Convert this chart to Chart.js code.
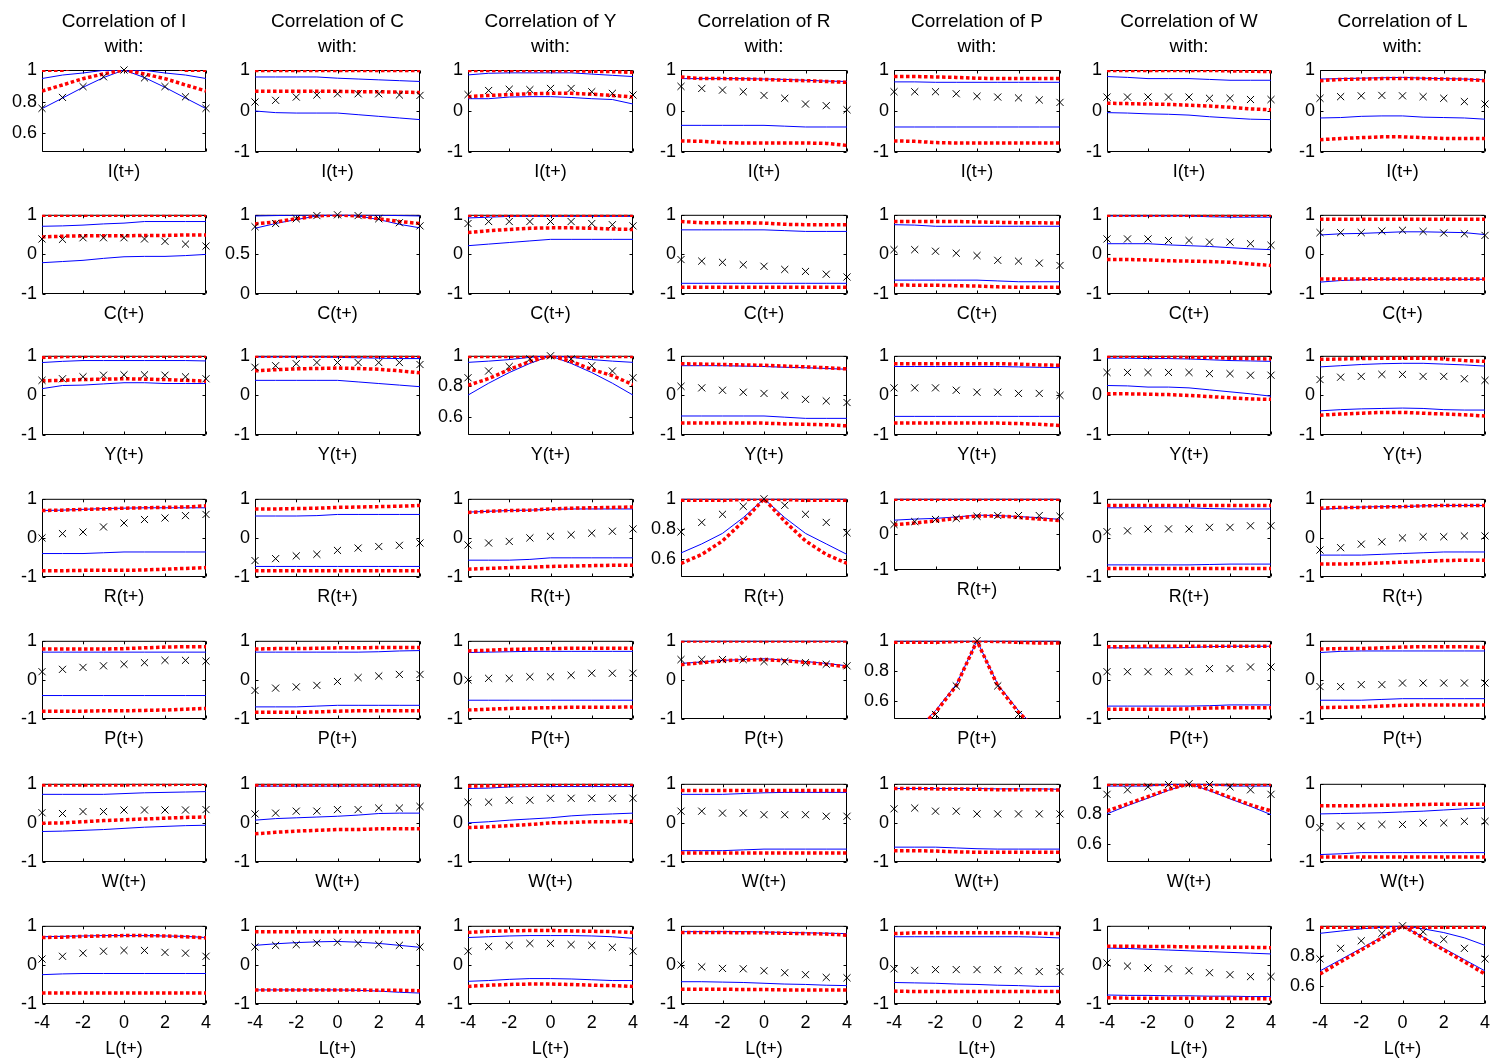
<!DOCTYPE html>
<html>
<head>
<meta charset="utf-8">
<script src="https://cdn.jsdelivr.net/npm/chart.js@4/dist/chart.umd.min.js"></script>
<style>
  html, body { margin: 0; padding: 0; background: #fff; }
  #grid { position: relative; width: 1493px; height: 1063px; overflow: hidden; }
  #grid canvas { position: absolute; }
</style>
</head>
<body>
<div id="grid"></div>
<script>
// Variables: columns are "Correlation of <v> with:", rows are "<v>(t+k)"
const VARS = ['I', 'C', 'Y', 'R', 'P', 'W', 'L'];
const LAGS = [-4, -3, -2, -1, 0, 1, 2, 3, 4];
const X_TICKS = [-4, -2, 0, 2, 4];
const Y_TICKS_FULL = [-1, 0, 1];
const Y_TICKS_AUTO = [0.6, 0.8, 1];
const Y_TICKS_UNIT = [0, 0.5, 1];

// Each row array lists the 7 columns in VARS order, 9 lags each.
// point = sample correlation (x markers), blueHi/blueLo = thin blue band,
// redHi/redLo = dotted red band.

// ---- row I(t+) ----
const pointI = [
  [0.757, 0.826, 0.895, 0.957, 1.0, 0.95, 0.895, 0.83, 0.757],
  [0.22, 0.26, 0.34, 0.39, 0.42, 0.42, 0.42, 0.39, 0.38],
  [0.40, 0.50, 0.53, 0.52, 0.55, 0.55, 0.47, 0.43, 0.39],
  [0.60, 0.55, 0.51, 0.47, 0.38, 0.31, 0.17, 0.13, 0.03],
  [0.47, 0.47, 0.47, 0.42, 0.36, 0.34, 0.32, 0.27, 0.21],
  [0.34, 0.34, 0.34, 0.34, 0.34, 0.31, 0.31, 0.28, 0.28],
  [0.31, 0.35, 0.37, 0.38, 0.37, 0.35, 0.31, 0.23, 0.17]
];
const blueHiI = [
  [0.946, 0.968, 0.981, 0.998, 1, 0.998, 0.981, 0.968, 0.946],
  [0.83, 0.83, 0.83, 0.83, 0.80, 0.78, 0.76, 0.74, 0.72],
  [0.88, 0.92, 0.93, 0.93, 0.93, 0.93, 0.90, 0.87, 0.84],
  [0.79, 0.79, 0.79, 0.79, 0.78, 0.77, 0.75, 0.73, 0.72],
  [0.71, 0.71, 0.70, 0.70, 0.70, 0.70, 0.70, 0.70, 0.70],
  [0.84, 0.82, 0.79, 0.79, 0.79, 0.77, 0.75, 0.75, 0.75],
  [0.78, 0.79, 0.80, 0.81, 0.82, 0.80, 0.79, 0.78, 0.76]
];
const blueLoI = [
  [0.755, 0.822, 0.89, 0.952, 1, 0.952, 0.89, 0.822, 0.755],
  [0.0, -0.04, -0.05, -0.05, -0.05, -0.09, -0.13, -0.17, -0.21],
  [0.30, 0.30, 0.34, 0.35, 0.35, 0.33, 0.30, 0.28, 0.17],
  [-0.35, -0.35, -0.35, -0.35, -0.35, -0.37, -0.39, -0.39, -0.39],
  [-0.39, -0.39, -0.39, -0.39, -0.39, -0.39, -0.39, -0.39, -0.39],
  [-0.04, -0.05, -0.07, -0.08, -0.10, -0.14, -0.17, -0.20, -0.21],
  [-0.17, -0.16, -0.13, -0.12, -0.12, -0.15, -0.16, -0.17, -0.20]
];
const redHiI = [
  [0.998, 0.999, 1.03, 1.03, 1.03, 1.03, 1.03, 0.999, 0.998],
  [0.99, 0.99, 0.99, 0.99, 0.99, 0.99, 0.99, 0.99, 0.99],
  [0.99, 0.99, 0.99, 0.99, 0.98, 0.98, 0.97, 0.96, 0.94],
  [0.83, 0.79, 0.79, 0.78, 0.77, 0.75, 0.74, 0.72, 0.70],
  [0.84, 0.84, 0.83, 0.82, 0.80, 0.79, 0.79, 0.79, 0.79],
  [0.99, 0.99, 0.99, 0.99, 0.99, 0.99, 0.98, 0.97, 0.96],
  [0.74, 0.77, 0.78, 0.79, 0.79, 0.79, 0.78, 0.77, 0.74]
];
const redLoI = [
  [0.867, 0.905, 0.945, 0.975, 1, 0.975, 0.945, 0.905, 0.867],
  [0.48, 0.48, 0.48, 0.48, 0.48, 0.47, 0.47, 0.46, 0.45],
  [0.35, 0.38, 0.40, 0.42, 0.43, 0.43, 0.41, 0.38, 0.34],
  [-0.73, -0.74, -0.77, -0.78, -0.78, -0.78, -0.78, -0.79, -0.84],
  [-0.73, -0.74, -0.77, -0.78, -0.78, -0.78, -0.78, -0.78, -0.78],
  [0.19, 0.18, 0.17, 0.16, 0.14, 0.12, 0.09, 0.05, 0.03],
  [-0.70, -0.67, -0.65, -0.63, -0.63, -0.65, -0.67, -0.67, -0.67]
];

// ---- row C(t+) ----
const pointC = [
  [0.39, 0.38, 0.42, 0.42, 0.42, 0.39, 0.33, 0.26, 0.21],
  [0.85, 0.89, 0.95, 0.99, 1.0, 0.99, 0.95, 0.90, 0.86],
  [0.78, 0.83, 0.83, 0.83, 0.83, 0.83, 0.78, 0.75, 0.72],
  [-0.13, -0.17, -0.20, -0.26, -0.30, -0.38, -0.43, -0.50, -0.57],
  [0.12, 0.12, 0.08, 0.03, -0.03, -0.15, -0.17, -0.22, -0.28],
  [0.39, 0.39, 0.39, 0.35, 0.35, 0.31, 0.31, 0.27, 0.23],
  [0.55, 0.55, 0.55, 0.59, 0.61, 0.58, 0.54, 0.52, 0.48]
];
const blueHiC = [
  [0.71, 0.72, 0.74, 0.77, 0.79, 0.83, 0.83, 0.83, 0.83],
  [0.985, 0.99, 0.995, 1, 1, 1, 0.995, 0.99, 0.985],
  [0.92, 0.94, 0.96, 0.96, 0.96, 0.96, 0.96, 0.96, 0.96],
  [0.62, 0.62, 0.62, 0.62, 0.62, 0.60, 0.58, 0.58, 0.58],
  [0.75, 0.74, 0.71, 0.71, 0.71, 0.71, 0.71, 0.71, 0.71],
  [0.97, 0.97, 0.97, 0.97, 0.97, 0.95, 0.94, 0.94, 0.94],
  [0.49, 0.52, 0.53, 0.55, 0.57, 0.57, 0.56, 0.55, 0.50]
];
const blueLoC = [
  [-0.21, -0.18, -0.15, -0.10, -0.06, -0.05, -0.05, -0.03, 0.0],
  [0.83, 0.89, 0.94, 0.985, 1, 0.985, 0.94, 0.88, 0.835],
  [0.22, 0.26, 0.30, 0.34, 0.38, 0.38, 0.38, 0.38, 0.38],
  [-0.73, -0.73, -0.73, -0.73, -0.73, -0.73, -0.73, -0.73, -0.73],
  [-0.65, -0.65, -0.65, -0.65, -0.65, -0.67, -0.69, -0.69, -0.69],
  [0.27, 0.27, 0.27, 0.24, 0.22, 0.20, 0.17, 0.14, 0.12],
  [-0.70, -0.66, -0.64, -0.63, -0.63, -0.63, -0.63, -0.63, -0.63]
];
const redHiC = [
  [0.99, 0.99, 0.99, 0.99, 0.99, 0.99, 0.99, 0.99, 0.99],
  [1.03, 1.03, 1.03, 1.03, 1.03, 1.03, 1.03, 1.03, 1.03],
  [0.99, 0.99, 0.99, 0.99, 0.99, 0.99, 0.99, 0.99, 0.99],
  [0.83, 0.80, 0.80, 0.80, 0.79, 0.76, 0.75, 0.75, 0.75],
  [0.83, 0.83, 0.83, 0.83, 0.82, 0.81, 0.80, 0.80, 0.79],
  [0.99, 0.99, 0.99, 0.99, 0.99, 0.99, 0.99, 0.99, 0.99],
  [0.89, 0.89, 0.89, 0.89, 0.89, 0.89, 0.89, 0.89, 0.89]
];
const redLoC = [
  [0.44, 0.46, 0.47, 0.47, 0.47, 0.48, 0.48, 0.49, 0.49],
  [0.885, 0.91, 0.95, 0.985, 1, 0.985, 0.95, 0.915, 0.89],
  [0.55, 0.60, 0.63, 0.66, 0.67, 0.67, 0.66, 0.64, 0.63],
  [-0.83, -0.83, -0.83, -0.83, -0.83, -0.83, -0.83, -0.83, -0.83],
  [-0.77, -0.78, -0.78, -0.79, -0.80, -0.82, -0.83, -0.83, -0.83],
  [-0.13, -0.13, -0.14, -0.16, -0.17, -0.18, -0.20, -0.24, -0.28],
  [-0.62, -0.62, -0.62, -0.62, -0.62, -0.62, -0.62, -0.62, -0.62]
];

// ---- row Y(t+) ----
const pointY = [
  [0.38, 0.42, 0.47, 0.51, 0.52, 0.52, 0.51, 0.47, 0.42],
  [0.71, 0.75, 0.80, 0.83, 0.83, 0.83, 0.83, 0.83, 0.78],
  [0.856, 0.90, 0.93, 0.98, 1.0, 0.98, 0.935, 0.90, 0.856],
  [0.23, 0.19, 0.13, 0.08, 0.05, 0.0, -0.10, -0.14, -0.18],
  [0.19, 0.19, 0.19, 0.13, 0.08, 0.08, 0.05, 0.05, 0.0],
  [0.58, 0.58, 0.58, 0.58, 0.58, 0.55, 0.55, 0.51, 0.51],
  [0.40, 0.46, 0.48, 0.53, 0.53, 0.48, 0.48, 0.42, 0.38]
];
const blueHiY = [
  [0.83, 0.86, 0.88, 0.88, 0.88, 0.88, 0.88, 0.88, 0.87],
  [0.97, 0.97, 0.97, 0.97, 0.96, 0.95, 0.94, 0.93, 0.93],
  [0.957, 0.965, 0.975, 0.99, 1, 0.99, 0.975, 0.965, 0.957],
  [0.75, 0.75, 0.75, 0.74, 0.73, 0.71, 0.70, 0.68, 0.66],
  [0.73, 0.73, 0.73, 0.73, 0.73, 0.73, 0.72, 0.71, 0.70],
  [0.94, 0.94, 0.93, 0.93, 0.92, 0.90, 0.88, 0.87, 0.86],
  [0.72, 0.75, 0.78, 0.80, 0.81, 0.81, 0.79, 0.77, 0.74]
];
const blueLoY = [
  [0.17, 0.25, 0.26, 0.29, 0.32, 0.32, 0.30, 0.30, 0.30],
  [0.38, 0.38, 0.38, 0.38, 0.38, 0.34, 0.30, 0.26, 0.22],
  [0.742, 0.82, 0.89, 0.95, 1, 0.95, 0.89, 0.82, 0.742],
  [-0.52, -0.52, -0.52, -0.52, -0.52, -0.55, -0.58, -0.58, -0.58],
  [-0.53, -0.53, -0.53, -0.53, -0.53, -0.53, -0.53, -0.53, -0.53],
  [0.25, 0.24, 0.21, 0.21, 0.19, 0.14, 0.09, 0.04, -0.02],
  [-0.39, -0.36, -0.34, -0.33, -0.32, -0.33, -0.36, -0.37, -0.37]
];
const redHiY = [
  [0.96, 0.98, 0.99, 0.99, 0.99, 0.99, 0.99, 0.99, 0.99],
  [0.99, 0.99, 0.99, 0.99, 0.99, 0.99, 0.99, 0.99, 0.99],
  [0.995, 0.995, 0.995, 0.995, 0.995, 0.995, 0.995, 0.995, 0.995],
  [0.80, 0.79, 0.78, 0.77, 0.76, 0.74, 0.72, 0.70, 0.67],
  [0.80, 0.80, 0.80, 0.80, 0.80, 0.80, 0.79, 0.77, 0.76],
  [0.99, 0.99, 0.99, 0.98, 0.97, 0.96, 0.94, 0.93, 0.92],
  [0.91, 0.92, 0.93, 0.94, 0.94, 0.94, 0.92, 0.88, 0.86]
];
const redLoY = [
  [0.37, 0.38, 0.40, 0.41, 0.42, 0.41, 0.40, 0.38, 0.36],
  [0.62, 0.65, 0.67, 0.68, 0.69, 0.68, 0.66, 0.62, 0.57],
  [0.806, 0.85, 0.91, 0.963, 1, 0.963, 0.91, 0.87, 0.81],
  [-0.70, -0.70, -0.70, -0.70, -0.70, -0.72, -0.73, -0.74, -0.77],
  [-0.70, -0.70, -0.70, -0.70, -0.70, -0.70, -0.71, -0.73, -0.76],
  [0.04, 0.04, 0.03, 0.02, 0.0, -0.03, -0.06, -0.09, -0.10],
  [-0.50, -0.47, -0.45, -0.43, -0.43, -0.45, -0.47, -0.49, -0.52]
];

// ---- row R(t+) ----
const pointR = [
  [0.0, 0.11, 0.15, 0.28, 0.38, 0.47, 0.51, 0.57, 0.60],
  [-0.58, -0.53, -0.46, -0.42, -0.32, -0.26, -0.22, -0.19, -0.13],
  [-0.18, -0.13, -0.09, 0.0, 0.04, 0.08, 0.12, 0.17, 0.23],
  [0.78, 0.843, 0.897, 0.95, 1.0, 0.957, 0.897, 0.843, 0.774],
  [0.28, 0.36, 0.42, 0.45, 0.51, 0.53, 0.53, 0.53, 0.51],
  [0.16, 0.18, 0.23, 0.23, 0.23, 0.27, 0.27, 0.31, 0.31],
  [-0.31, -0.25, -0.16, -0.10, 0.0, 0.03, 0.03, 0.05, 0.05]
];
const blueHiR = [
  [0.70, 0.71, 0.73, 0.75, 0.76, 0.77, 0.77, 0.77, 0.77],
  [0.56, 0.56, 0.56, 0.57, 0.60, 0.60, 0.60, 0.60, 0.60],
  [0.66, 0.68, 0.70, 0.71, 0.73, 0.74, 0.74, 0.74, 0.74],
  [1, 1, 1, 1, 1, 1, 1, 1, 1],
  [1, 1, 1, 1, 1, 1, 1, 1, 1],
  [0.77, 0.77, 0.77, 0.77, 0.77, 0.75, 0.74, 0.74, 0.74],
  [0.73, 0.76, 0.79, 0.80, 0.80, 0.82, 0.83, 0.83, 0.83]
];
const blueLoR = [
  [-0.40, -0.40, -0.40, -0.38, -0.36, -0.36, -0.36, -0.36, -0.36],
  [-0.73, -0.73, -0.73, -0.73, -0.73, -0.73, -0.73, -0.73, -0.73],
  [-0.57, -0.57, -0.57, -0.55, -0.51, -0.51, -0.51, -0.51, -0.51],
  [0.64, 0.70, 0.77, 0.875, 1, 0.875, 0.77, 0.70, 0.63],
  [0.40, 0.43, 0.45, 0.49, 0.54, 0.53, 0.50, 0.47, 0.42],
  [-0.69, -0.69, -0.69, -0.69, -0.69, -0.68, -0.67, -0.67, -0.67],
  [-0.44, -0.44, -0.44, -0.42, -0.40, -0.38, -0.36, -0.36, -0.36]
];
const redHiR = [
  [0.70, 0.71, 0.73, 0.74, 0.76, 0.77, 0.78, 0.79, 0.82],
  [0.74, 0.74, 0.75, 0.76, 0.78, 0.79, 0.80, 0.81, 0.83],
  [0.65, 0.68, 0.70, 0.71, 0.74, 0.76, 0.77, 0.78, 0.79],
  [0.99, 0.99, 0.99, 0.995, 1, 0.995, 0.99, 0.99, 0.99],
  [0.99, 0.99, 0.99, 0.99, 0.99, 0.99, 0.99, 0.99, 0.99],
  [0.83, 0.83, 0.83, 0.83, 0.83, 0.83, 0.83, 0.83, 0.83],
  [0.76, 0.78, 0.78, 0.79, 0.80, 0.82, 0.83, 0.83, 0.83]
];
const redLoR = [
  [-0.84, -0.84, -0.83, -0.83, -0.83, -0.82, -0.80, -0.78, -0.76],
  [-0.84, -0.84, -0.84, -0.84, -0.84, -0.84, -0.84, -0.84, -0.84],
  [-0.80, -0.78, -0.76, -0.75, -0.73, -0.72, -0.71, -0.70, -0.70],
  [0.57, 0.63, 0.72, 0.85, 1, 0.85, 0.72, 0.63, 0.57],
  [0.27, 0.32, 0.38, 0.45, 0.52, 0.52, 0.48, 0.43, 0.39],
  [-0.78, -0.78, -0.78, -0.78, -0.78, -0.78, -0.78, -0.78, -0.78],
  [-0.67, -0.67, -0.66, -0.64, -0.62, -0.60, -0.58, -0.57, -0.57]
];

// ---- row P(t+) ----
const pointP = [
  [0.21, 0.27, 0.32, 0.36, 0.40, 0.44, 0.50, 0.50, 0.48],
  [-0.27, -0.21, -0.18, -0.14, -0.04, 0.06, 0.10, 0.14, 0.14],
  [0.0, 0.04, 0.04, 0.08, 0.08, 0.12, 0.17, 0.17, 0.17],
  [0.52, 0.52, 0.52, 0.52, 0.47, 0.47, 0.44, 0.40, 0.36],
  [0.27, 0.38, 0.51, 0.70, 1.0, 0.70, 0.51, 0.38, 0.27],
  [0.21, 0.21, 0.21, 0.21, 0.21, 0.29, 0.29, 0.33, 0.33],
  [-0.17, -0.17, -0.12, -0.12, -0.08, -0.08, -0.08, -0.08, -0.08]
];
const blueHiP = [
  [0.71, 0.71, 0.71, 0.71, 0.71, 0.71, 0.71, 0.71, 0.71],
  [0.71, 0.71, 0.71, 0.71, 0.71, 0.71, 0.72, 0.74, 0.75],
  [0.70, 0.71, 0.72, 0.73, 0.73, 0.73, 0.73, 0.73, 0.73],
  [1, 1, 1, 1, 1, 1, 1, 1, 1],
  [1, 1, 1, 1, 1, 1, 1, 1, 1],
  [0.82, 0.82, 0.82, 0.82, 0.83, 0.85, 0.86, 0.86, 0.86],
  [0.70, 0.73, 0.74, 0.74, 0.74, 0.74, 0.74, 0.74, 0.74]
];
const blueLoP = [
  [-0.40, -0.40, -0.40, -0.40, -0.40, -0.40, -0.40, -0.40, -0.40],
  [-0.69, -0.69, -0.69, -0.67, -0.65, -0.65, -0.65, -0.65, -0.65],
  [-0.52, -0.52, -0.52, -0.52, -0.52, -0.52, -0.52, -0.52, -0.52],
  [0.42, 0.46, 0.50, 0.52, 0.54, 0.51, 0.47, 0.42, 0.36],
  [0.27, 0.40, 0.535, 0.71, 1, 0.71, 0.535, 0.40, 0.27],
  [-0.67, -0.67, -0.67, -0.67, -0.67, -0.66, -0.64, -0.64, -0.64],
  [-0.52, -0.52, -0.52, -0.50, -0.48, -0.48, -0.48, -0.48, -0.48]
];
const redHiP = [
  [0.79, 0.79, 0.79, 0.79, 0.80, 0.82, 0.84, 0.85, 0.85],
  [0.79, 0.80, 0.80, 0.81, 0.82, 0.82, 0.83, 0.83, 0.83],
  [0.74, 0.76, 0.78, 0.79, 0.80, 0.81, 0.81, 0.81, 0.81],
  [0.995, 0.995, 0.995, 0.995, 0.995, 0.995, 0.995, 0.995, 0.995],
  [0.99, 0.99, 0.99, 0.995, 1, 0.995, 0.99, 0.985, 0.985],
  [0.85, 0.85, 0.86, 0.86, 0.86, 0.86, 0.86, 0.86, 0.86],
  [0.79, 0.80, 0.80, 0.82, 0.84, 0.85, 0.85, 0.85, 0.83]
];
const redLoP = [
  [-0.80, -0.80, -0.80, -0.79, -0.79, -0.78, -0.77, -0.75, -0.73],
  [-0.83, -0.83, -0.83, -0.82, -0.80, -0.79, -0.79, -0.79, -0.79],
  [-0.77, -0.75, -0.73, -0.72, -0.71, -0.70, -0.70, -0.70, -0.69],
  [0.39, 0.44, 0.49, 0.51, 0.52, 0.49, 0.45, 0.40, 0.33],
  [0.26, 0.39, 0.525, 0.70, 1, 0.70, 0.525, 0.39, 0.26],
  [-0.75, -0.75, -0.75, -0.75, -0.74, -0.72, -0.71, -0.71, -0.71],
  [-0.71, -0.70, -0.69, -0.67, -0.65, -0.64, -0.64, -0.64, -0.64]
];

// ---- row W(t+) ----
const pointW = [
  [0.26, 0.24, 0.29, 0.29, 0.33, 0.33, 0.33, 0.33, 0.34],
  [0.23, 0.25, 0.30, 0.30, 0.34, 0.34, 0.38, 0.38, 0.42],
  [0.53, 0.53, 0.58, 0.58, 0.63, 0.63, 0.63, 0.63, 0.63],
  [0.30, 0.30, 0.25, 0.25, 0.21, 0.21, 0.21, 0.17, 0.17],
  [0.36, 0.38, 0.30, 0.30, 0.23, 0.23, 0.23, 0.23, 0.23],
  [0.93, 0.96, 0.98, 0.995, 1, 0.995, 0.98, 0.96, 0.93],
  [-0.12, -0.08, -0.08, -0.04, -0.04, 0.0, 0.0, 0.04, 0.04]
];
const blueHiW = [
  [0.73, 0.73, 0.73, 0.73, 0.75, 0.77, 0.78, 0.79, 0.80],
  [0.94, 0.94, 0.94, 0.94, 0.94, 0.94, 0.94, 0.94, 0.94],
  [0.88, 0.89, 0.92, 0.93, 0.93, 0.93, 0.93, 0.93, 0.93],
  [0.73, 0.73, 0.73, 0.75, 0.77, 0.78, 0.78, 0.78, 0.78],
  [0.88, 0.88, 0.88, 0.88, 0.88, 0.87, 0.87, 0.87, 0.86],
  [0.985, 0.985, 0.985, 0.995, 1, 0.995, 0.985, 0.985, 0.985],
  [0.23, 0.24, 0.25, 0.26, 0.28, 0.30, 0.33, 0.36, 0.38]
];
const blueLoW = [
  [-0.22, -0.21, -0.19, -0.17, -0.14, -0.11, -0.09, -0.07, -0.06],
  [0.07, 0.11, 0.13, 0.15, 0.17, 0.20, 0.24, 0.25, 0.25],
  [0.0, 0.03, 0.07, 0.10, 0.13, 0.18, 0.21, 0.23, 0.25],
  [-0.71, -0.71, -0.71, -0.69, -0.67, -0.67, -0.67, -0.67, -0.67],
  [-0.62, -0.62, -0.62, -0.64, -0.66, -0.67, -0.67, -0.67, -0.67],
  [0.80, 0.855, 0.905, 0.957, 1, 0.955, 0.90, 0.85, 0.795],
  [-0.81, -0.79, -0.76, -0.76, -0.76, -0.76, -0.76, -0.76, -0.76]
];
const redHiW = [
  [0.97, 0.97, 0.97, 0.97, 0.97, 0.98, 0.98, 0.99, 0.99],
  [0.97, 0.97, 0.97, 0.97, 0.97, 0.97, 0.97, 0.97, 0.97],
  [0.94, 0.95, 0.96, 0.97, 0.98, 0.98, 0.98, 0.98, 0.98],
  [0.83, 0.83, 0.83, 0.83, 0.83, 0.83, 0.83, 0.83, 0.83],
  [0.88, 0.88, 0.87, 0.87, 0.86, 0.85, 0.85, 0.85, 0.84],
  [0.995, 0.995, 0.995, 0.995, 0.995, 0.995, 0.995, 0.995, 0.995],
  [0.44, 0.44, 0.44, 0.45, 0.46, 0.47, 0.48, 0.48, 0.48]
];
const redLoW = [
  [-0.01, 0.0, 0.03, 0.06, 0.08, 0.10, 0.12, 0.14, 0.15],
  [-0.28, -0.24, -0.21, -0.19, -0.17, -0.17, -0.15, -0.15, -0.15],
  [-0.12, -0.10, -0.07, -0.04, 0.0, 0.01, 0.03, 0.03, 0.04],
  [-0.77, -0.77, -0.77, -0.77, -0.77, -0.77, -0.77, -0.77, -0.77],
  [-0.71, -0.71, -0.72, -0.74, -0.75, -0.75, -0.75, -0.75, -0.75],
  [0.82, 0.866, 0.914, 0.963, 1, 0.96, 0.91, 0.86, 0.82],
  [-0.87, -0.87, -0.87, -0.87, -0.87, -0.87, -0.87, -0.87, -0.87]
];

// ---- row L(t+) ----
const pointL = [
  [0.15, 0.22, 0.30, 0.35, 0.37, 0.37, 0.32, 0.30, 0.22],
  [0.46, 0.50, 0.52, 0.56, 0.58, 0.55, 0.52, 0.50, 0.46],
  [0.35, 0.47, 0.50, 0.55, 0.55, 0.52, 0.50, 0.45, 0.35],
  [0.0, -0.05, -0.09, -0.10, -0.15, -0.20, -0.25, -0.32, -0.33],
  [-0.10, -0.14, -0.12, -0.12, -0.12, -0.12, -0.15, -0.17, -0.17],
  [0.05, -0.03, -0.08, -0.10, -0.15, -0.20, -0.25, -0.30, -0.30],
  [0.78, 0.85, 0.90, 0.95, 1.0, 0.96, 0.91, 0.85, 0.78]
];
const blueHiL = [
  [0.72, 0.73, 0.74, 0.75, 0.75, 0.75, 0.74, 0.73, 0.70],
  [0.50, 0.54, 0.57, 0.59, 0.60, 0.58, 0.55, 0.50, 0.45],
  [0.70, 0.72, 0.74, 0.75, 0.75, 0.75, 0.74, 0.72, 0.68],
  [0.85, 0.85, 0.85, 0.85, 0.84, 0.83, 0.82, 0.81, 0.80],
  [0.72, 0.72, 0.72, 0.72, 0.72, 0.72, 0.72, 0.71, 0.69],
  [0.43, 0.42, 0.40, 0.38, 0.36, 0.34, 0.32, 0.30, 0.28],
  [0.95, 0.965, 0.98, 0.99, 1, 0.98, 0.955, 0.92, 0.87]
];
const blueLoL = [
  [-0.25, -0.23, -0.22, -0.22, -0.22, -0.22, -0.22, -0.22, -0.22],
  [-0.64, -0.64, -0.64, -0.64, -0.64, -0.65, -0.67, -0.70, -0.72],
  [-0.42, -0.40, -0.37, -0.35, -0.35, -0.36, -0.38, -0.40, -0.40],
  [-0.43, -0.43, -0.44, -0.45, -0.47, -0.49, -0.50, -0.52, -0.53],
  [-0.45, -0.46, -0.47, -0.49, -0.50, -0.52, -0.53, -0.55, -0.55],
  [-0.77, -0.78, -0.78, -0.79, -0.79, -0.80, -0.80, -0.81, -0.81],
  [0.70, 0.775, 0.85, 0.925, 1, 0.925, 0.85, 0.775, 0.70]
];
const redHiL = [
  [0.70, 0.71, 0.73, 0.74, 0.75, 0.75, 0.74, 0.72, 0.69],
  [0.85, 0.85, 0.85, 0.85, 0.85, 0.85, 0.85, 0.85, 0.85],
  [0.83, 0.86, 0.87, 0.88, 0.88, 0.87, 0.86, 0.85, 0.83],
  [0.83, 0.83, 0.83, 0.82, 0.82, 0.81, 0.80, 0.79, 0.76],
  [0.80, 0.82, 0.82, 0.82, 0.82, 0.82, 0.82, 0.81, 0.80],
  [0.48, 0.48, 0.47, 0.47, 0.46, 0.46, 0.45, 0.45, 0.44],
  [0.99, 0.99, 0.99, 0.99, 0.99, 0.99, 0.99, 0.99, 0.99]
];
const redLoL = [
  [-0.72, -0.72, -0.72, -0.72, -0.72, -0.72, -0.72, -0.72, -0.72],
  [-0.64, -0.64, -0.64, -0.64, -0.64, -0.64, -0.65, -0.65, -0.66],
  [-0.55, -0.52, -0.50, -0.49, -0.49, -0.50, -0.52, -0.53, -0.55],
  [-0.62, -0.62, -0.62, -0.63, -0.63, -0.64, -0.64, -0.64, -0.64],
  [-0.67, -0.68, -0.68, -0.68, -0.68, -0.68, -0.68, -0.68, -0.68],
  [-0.84, -0.85, -0.85, -0.85, -0.85, -0.85, -0.86, -0.86, -0.87],
  [0.68, 0.76, 0.84, 0.92, 1, 0.92, 0.84, 0.76, 0.68]
];

const ROWS = {
  I: { point: pointI, blueHi: blueHiI, blueLo: blueLoI, redHi: redHiI, redLo: redLoI },
  C: { point: pointC, blueHi: blueHiC, blueLo: blueLoC, redHi: redHiC, redLo: redLoC },
  Y: { point: pointY, blueHi: blueHiY, blueLo: blueLoY, redHi: redHiY, redLo: redLoY },
  R: { point: pointR, blueHi: blueHiR, blueLo: blueLoR, redHi: redHiR, redLo: redLoR },
  P: { point: pointP, blueHi: blueHiP, blueLo: blueLoP, redHi: redHiP, redLo: redLoP },
  W: { point: pointW, blueHi: blueHiW, blueLo: blueLoW, redHi: redHiW, redLo: redLoW },
  L: { point: pointL, blueHi: blueHiL, blueLo: blueLoL, redHi: redHiL, redLo: redLoL }
};

// ---- page layout of the 7x7 grid of plot boxes ----
const COL_LEFT = [42, 255, 468, 681, 894, 1107, 1320];
const COL_RIGHT = [206, 420, 633, 847, 1060, 1271, 1485];
const ROW_TOP = [70, 213, 354, 497, 639, 782, 924];
const ROW_BOTTOM = [152, 294, 435, 577, 719, 862, 1004];
const Y_AXIS_W = 48;     // room for the y tick labels (and mirrored on the right)
const TOP_PAD = 14;      // room above the box for the top tick label

const FONT_FAMILY = '"Liberation Sans", Arial, Helvetica, sans-serif';
Chart.defaults.font.family = FONT_FAMILY;
Chart.defaults.color = '#000';

function yAxisFor(r, c) {
  if (r === c && VARS[r] === 'C') return { min: 0, max: 1, ticks: Y_TICKS_UNIT };
  if (r === c) return { min: 0.48, max: 1, ticks: Y_TICKS_AUTO };
  return { min: -1, max: 1, ticks: Y_TICKS_FULL };
}

// Box around the plot area with short inward tick marks (drawn under the data)
const framePlugin = {
  id: 'frame',
  beforeDatasetsDraw(chart) {
    const { ctx, chartArea: a, scales } = chart;
    const L = a.left + 0.5, R = a.right - 0.5, T = a.top + 0.5, B = a.bottom - 0.5;
    ctx.save();
    ctx.strokeStyle = '#000';
    ctx.lineWidth = 1;
    ctx.beginPath();
    ctx.rect(L, T, R - L, B - T);
    const tl = 3;
    scales.y.ticks.forEach(t => {
      const py = Math.round(scales.y.getPixelForValue(t.value)) + 0.5;
      ctx.moveTo(L, py); ctx.lineTo(L + tl, py);
      ctx.moveTo(R, py); ctx.lineTo(R - tl, py);
    });
    scales.x.ticks.forEach(t => {
      const px = Math.round(scales.x.getPixelForValue(t.value)) + 0.5;
      ctx.moveTo(px, B); ctx.lineTo(px, B - tl);
      ctx.moveTo(px, T); ctx.lineTo(px, T + tl);
    });
    ctx.stroke();
    ctx.restore();
  }
};

function series(vals) {
  return LAGS.map((k, i) => ({ x: k, y: vals[i] }));
}

function makePanel(r, c) {
  const rowVar = VARS[r], colVar = VARS[c];
  const src = ROWS[rowVar];
  const left = COL_LEFT[c], right = COL_RIGHT[c];
  const top = ROW_TOP[r];
  const bottom = (rowVar === 'R' && colVar === 'P') ? 570 : ROW_BOTTOM[r];
  const W = right - left, H = bottom - top;
  const isTop = r === 0, isBottom = r === VARS.length - 1;
  const axisH = isBottom ? 60 : 31;
  const canvasTop = isTop ? 0 : top - TOP_PAD;

  const canvas = document.createElement('canvas');
  canvas.width = Y_AXIS_W + W + Y_AXIS_W;
  canvas.height = (top - canvasTop) + H + axisH;
  canvas.style.left = (left - Y_AXIS_W) + 'px';
  canvas.style.top = canvasTop + 'px';
  document.getElementById('grid').appendChild(canvas);

  const ya = yAxisFor(r, c);
  const lineBase = { showLine: true, pointRadius: 0, clip: 0, fill: false, tension: 0 };

  new Chart(canvas, {
    type: 'scatter',
    data: {
      datasets: [
        { ...lineBase, data: series(src.blueHi[c]), borderColor: '#0000ff', borderWidth: 1, order: 2 },
        { ...lineBase, data: series(src.blueLo[c]), borderColor: '#0000ff', borderWidth: 1, order: 2 },
        { ...lineBase, data: series(src.redHi[c]), borderColor: '#ff0000', borderWidth: 3.5, borderDash: [3.5, 2.5], order: 1 },
        { ...lineBase, data: series(src.redLo[c]), borderColor: '#ff0000', borderWidth: 3.5, borderDash: [3.5, 2.5], order: 1 },
        {
          data: series(src.point[c]), showLine: false, pointStyle: 'crossRot', pointRadius: 5,
          pointBorderColor: '#000', pointBackgroundColor: 'rgba(0,0,0,0)', pointBorderWidth: 1,
          clip: 8, order: 0
        }
      ]
    },
    options: {
      responsive: false,
      animation: false,
      devicePixelRatio: 1,
      events: [],
      layout: { padding: { top: isTop ? 0 : TOP_PAD, left: 0, right: 0, bottom: 0 } },
      plugins: {
        legend: { display: false },
        tooltip: { enabled: false },
        title: {
          display: isTop,
          text: ['Correlation of ' + colVar, 'with:'],
          color: '#000',
          font: { size: 19, weight: 'normal', lineHeight: 25 / 19 },
          padding: { top: 9, bottom: 11 }
        }
      },
      scales: {
        x: {
          type: 'linear', min: -4, max: 4,
          afterBuildTicks: s => { s.ticks = X_TICKS.map(v => ({ value: v })); },
          afterFit: s => { s.height = axisH; },
          grid: { display: false, drawTicks: false },
          border: { display: false },
          ticks: { display: isBottom, padding: 8, maxRotation: 0, autoSkip: false, font: { size: 18 }, color: '#000', callback: v => String(v) },
          title: { display: true, text: rowVar + '(t+)', font: { size: 18 }, color: '#000', padding: { top: 0, bottom: isBottom ? 4 : 0 } }
        },
        y: {
          type: 'linear', position: 'left', min: ya.min, max: ya.max,
          afterBuildTicks: s => { s.ticks = ya.ticks.map(v => ({ value: v })); },
          afterFit: s => { s.width = Y_AXIS_W; },
          grid: { display: false, drawTicks: false },
          border: { display: false },
          ticks: { padding: 5, font: { size: 18 }, color: '#000', callback: v => String(v) }
        },
        yRight: {
          type: 'linear', position: 'right', display: true,
          afterFit: s => { s.width = Y_AXIS_W; },
          grid: { display: false, drawTicks: false },
          border: { display: false },
          ticks: { display: false }
        }
      }
    },
    plugins: [framePlugin]
  });
}

for (let r = 0; r < VARS.length; r++) {
  for (let c = 0; c < VARS.length; c++) {
    makePanel(r, c);
  }
}
</script>
</body>
</html>
